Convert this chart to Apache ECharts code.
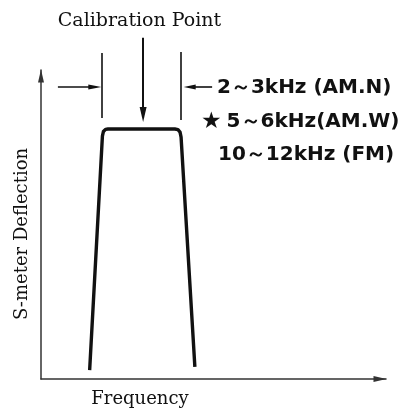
<!DOCTYPE html>
<html>
<head>
<meta charset="utf-8">
<script src="https://cdn.jsdelivr.net/npm/echarts@6/dist/echarts.min.js"></script>
<style>
  html, body { margin: 0; padding: 0; background: #fff; }
  #chart { width: 401px; height: 410px; }
</style>
</head>
<body>
<div id="chart"></div>
<script>
// filter response curve (arbitrary units, 0..100 on both axes)
const freq = [14.1, 17.8, 18.1, 18.7, 19.4, 38.8, 39.7, 40.3, 40.6, 44.6];
const deflection = [2.9, 78.6, 80.1, 80.8, 80.9, 80.9, 80.7, 79.9, 78.3, 3.9];

// bandwidth markers and arrows, same units (annotation layer goes up to 120)
const markerX = [17.7, 40.6];
const markerTop = [105.5, 105.8];
const markerBottom = [84.5, 83.8];
const arrowLevel = 94.5;
const leftArrow = [4.9, 15.6];
const rightArrow = [49.6, 43.1];
const calibX = 29.6;
const calibArrow = [110.4, 85.6];

const bandLabels = ["2～3kHz (AM.N)", "5～6kHz(AM.W)", "10～12kHz (FM)"];

const chart = echarts.init(document.getElementById("chart"));

const plain = { symbol: "none" };
const markData = [
  [{ coord: [markerX[0], markerTop[0]], ...plain }, { coord: [markerX[0], markerBottom[0]], ...plain }],
  [{ coord: [markerX[1], markerTop[1]], ...plain }, { coord: [markerX[1], markerBottom[1]], ...plain }],
  [{ coord: [leftArrow[0], arrowLevel], symbol: "none" },
   { coord: [leftArrow[1], arrowLevel], symbol: "triangle", symbolSize: [5, 13] }],
  [{ coord: [rightArrow[0], arrowLevel], symbol: "none" },
   { coord: [rightArrow[1], arrowLevel], symbol: "triangle", symbolSize: [5, 12] }],
  [{ coord: [calibX, calibArrow[0]], symbol: "none" },
   { coord: [calibX, calibArrow[1]], symbol: "triangle", symbolSize: [7, 15], lineStyle: { width: 2 } }],
];

const serif = "'DejaVu Serif', serif";
const sans = "'DejaVu Sans', sans-serif";

const axisLine = {
  show: true, symbol: ["none", "triangle"], symbolSize: [6, 13], symbolOffset: [0, -6],
  lineStyle: { color: "#333", width: 1.5 },
};

chart.setOption({
  animation: false,
  grid: [
    { left: 41, right: 15, top: 70, bottom: 31 },
    { left: 41, right: 15, top: 8.2, bottom: 31 },
  ],
  xAxis: [
    {
      gridIndex: 0, type: "value", min: 0, max: 100, axisLine,
      axisTick: { show: false }, axisLabel: { show: false }, splitLine: { show: false },
    },
    { gridIndex: 1, type: "value", min: 0, max: 100, show: false },
  ],
  yAxis: [
    {
      gridIndex: 0, type: "value", min: 0, max: 100, axisLine,
      axisTick: { show: false }, axisLabel: { show: false }, splitLine: { show: false },
    },
    { gridIndex: 1, type: "value", min: 0, max: 120, show: false },
  ],
  series: [
    {
      type: "line",
      xAxisIndex: 0, yAxisIndex: 0,
      data: freq.map((f, i) => [f, deflection[i]]),
      showSymbol: false,
      lineStyle: { color: "#111", width: 3.4, join: "round" },
      silent: true,
    },
    {
      type: "line",
      xAxisIndex: 1, yAxisIndex: 1,
      data: [],
      silent: true,
      markLine: {
        silent: true,
        animation: false,
        label: { show: false },
        lineStyle: { color: "#111", width: 1.6, type: "solid" },
        emphasis: { disabled: true },
        data: markData,
      },
    },
  ],
  graphic: [
    { type: "text", x: 139.5, y: 21,
      style: { text: "Calibration Point", font: "19px " + serif, fill: "#111",
        align: "center", verticalAlign: "middle" } },
    { type: "text", x: 140, y: 399,
      style: { text: "Frequency", font: "18px " + serif, fill: "#111",
        align: "center", verticalAlign: "middle" } },
    { type: "text", x: 22, y: 234, rotation: Math.PI / 2,
      style: { text: "S-meter Deflection", font: "18px " + serif, fill: "#111",
        align: "center", verticalAlign: "middle" } },
    { type: "text", x: 217, y: 88,
      style: { text: bandLabels[0], font: "bold 20px " + sans, fill: "#111",
        align: "left", verticalAlign: "middle" } },
    { type: "text", x: 201, y: 122,
      style: {
        text: "{star|★}{t|" + bandLabels[1] + "}",
        fill: "#111", align: "left", verticalAlign: "middle",
        rich: {
          star: { fontFamily: sans, fontSize: 23, fill: "#111", padding: [0, 5, 0, 0] },
          t: { fontFamily: sans, fontSize: 20, fontWeight: "bold", fill: "#111" },
        },
      } },
    { type: "text", x: 218, y: 155,
      style: { text: bandLabels[2], font: "bold 20px " + sans, fill: "#111",
        align: "left", verticalAlign: "middle" } },
  ],
});
</script>
</body>
</html>
